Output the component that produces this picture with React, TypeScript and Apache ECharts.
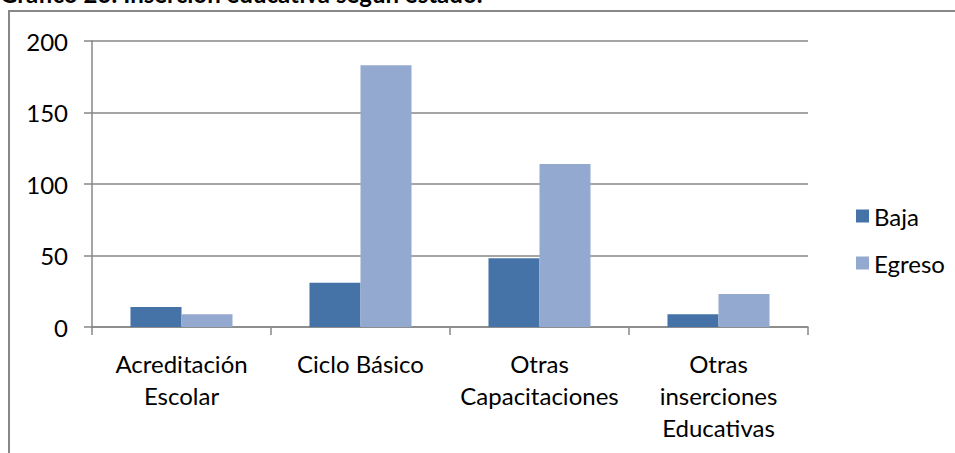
import React, { useEffect, useRef } from "react";
import * as echarts from "echarts";

const categories = [
  "Acreditación\nEscolar",
  "Ciclo Básico",
  "Otras\nCapacitaciones",
  "Otras\ninserciones\nEducativas",
];
const bajaValues = [14, 31, 48, 9];
const egresoValues = [9, 183, 114, 23];
const seriesNames = ["Baja", "Egreso"];
const yTicks = { min: 0, max: 200, interval: 50 };
const titleText = "Gráfico 26: Inserción educativa según estado.";

const FONT = "Lato, 'Open Sans', sans-serif";
const GRAY = "#878787";

export default function App() {
  const ref = useRef<HTMLDivElement>(null);
  useEffect(() => {
    if (!ref.current) return;
    const chart = echarts.init(ref.current, null, { renderer: "svg" });
    chart.setOption({
      animation: false,
      backgroundColor: "#ffffff",
      textStyle: { fontFamily: FONT },
      graphic: [
        {
          type: "rect",
          shape: { x: 9, y: 11, width: 1200, height: 800 },
          style: { fill: "none", stroke: GRAY, lineWidth: 2 },
          silent: true,
        },
        {
          type: "text",
          x: 0,
          y: 5,
          style: {
            text: titleText,
            fontFamily: FONT,
            fontWeight: "bold",
            fontSize: 24,
            fill: "#000",
            verticalAlign: "bottom",
          },
        },
      ],
      legend: {
        orient: "vertical",
        left: 851,
        top: 199,
        itemWidth: 13,
        itemHeight: 13,
        itemGap: 23,
        icon: "rect",
        textStyle: { fontSize: 24, color: "#000", fontFamily: FONT },
        data: seriesNames,
      },
      grid: { left: 92, right: 147, top: 41, bottom: 126, containLabel: false },
      xAxis: {
        type: "category",
        data: categories,
        axisLine: { show: true, lineStyle: { color: GRAY, width: 1.5 } },
        axisTick: { show: true, length: 8, lineStyle: { color: GRAY, width: 1.5 } },
        axisLabel: {
          color: "#000",
          fontSize: 24,
          lineHeight: 32,
          margin: 20,
          interval: 0,
          fontFamily: FONT,
        },
      },
      yAxis: {
        type: "value",
        min: yTicks.min,
        max: yTicks.max,
        interval: yTicks.interval,
        axisLine: { show: true, lineStyle: { color: GRAY, width: 1.5 } },
        axisTick: { show: true, length: 8, lineStyle: { color: GRAY, width: 1.5 } },
        splitLine: { show: true, lineStyle: { color: GRAY, width: 1.5 } },
        axisLabel: { color: "#000", fontSize: 24, margin: 24, fontFamily: FONT },
      },
      series: [
        {
          name: seriesNames[0],
          type: "bar",
          data: bajaValues,
          barGap: "0%",
          barCategoryGap: "43%",
          itemStyle: { color: "#4572A7" },
        },
        {
          name: seriesNames[1],
          type: "bar",
          data: egresoValues,
          barGap: "0%",
          barCategoryGap: "43%",
          itemStyle: { color: "#93A9CF" },
        },
      ],
    });
    return () => chart.dispose();
  }, []);
  return (
    <div
      ref={ref}
      style={{ position: "fixed", left: 0, top: 0, width: 955, height: 453 }}
    />
  );
}
